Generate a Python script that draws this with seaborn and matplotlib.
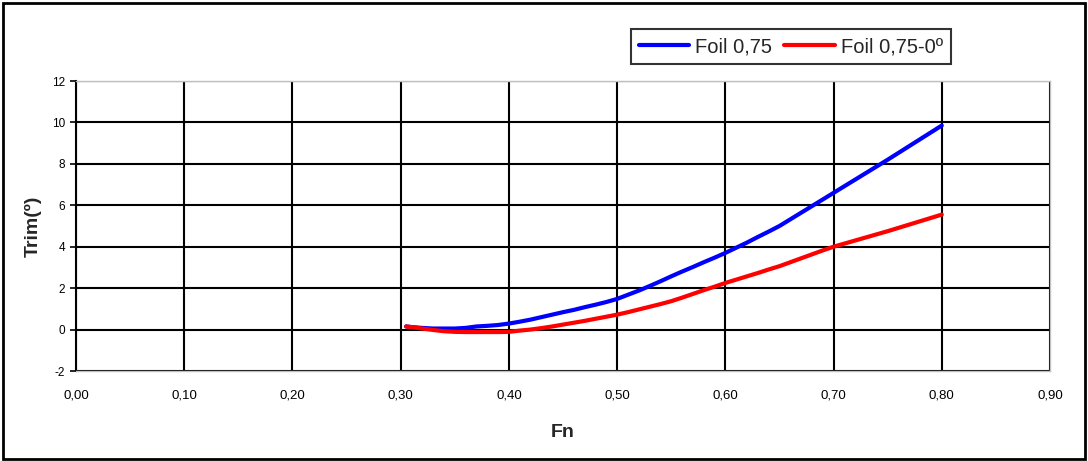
import numpy as np
import pandas as pd
import matplotlib
matplotlib.use("Agg")
import matplotlib.pyplot as plt
import seaborn as sns
from matplotlib.patches import Rectangle

# -----------------------------
# Data
# -----------------------------
fn = [0.305, 0.31, 0.32, 0.33, 0.34, 0.35, 0.36, 0.37, 0.38, 0.39,
      0.40, 0.41, 0.42, 0.43, 0.44, 0.45, 0.46, 0.47, 0.48, 0.49,
      0.50, 0.51, 0.52, 0.53, 0.54, 0.55, 0.56, 0.57, 0.58, 0.59,
      0.60, 0.61, 0.62, 0.63, 0.64, 0.65, 0.66, 0.67, 0.68, 0.69,
      0.70, 0.71, 0.72, 0.73, 0.74, 0.75, 0.76, 0.77, 0.78, 0.79, 0.80]

trim_foil = [0.15, 0.12, 0.08, 0.05, 0.05, 0.05, 0.08, 0.15, 0.18, 0.22,
             0.29, 0.38, 0.48, 0.60, 0.72, 0.84, 0.95, 1.08, 1.20, 1.33,
             1.48, 1.68, 1.88, 2.10, 2.33, 2.57, 2.80, 3.02, 3.25, 3.47,
             3.70, 3.95, 4.20, 4.47, 4.73, 5.00, 5.32, 5.64, 5.96, 6.28,
             6.60, 6.92, 7.24, 7.56, 7.88, 8.20, 8.53, 8.86, 9.19, 9.52, 9.85]

trim_foil_0 = [0.15, 0.12, 0.05, -0.02, -0.08, -0.11, -0.12, -0.12, -0.12, -0.12,
               -0.11, -0.05, 0.00, 0.07, 0.15, 0.24, 0.33, 0.42, 0.52, 0.62,
               0.72, 0.84, 0.97, 1.10, 1.23, 1.37, 1.54, 1.72, 1.90, 2.07,
               2.25, 2.41, 2.57, 2.73, 2.90, 3.06, 3.25, 3.44, 3.63, 3.82,
               4.00, 4.15, 4.30, 4.45, 4.60, 4.75, 4.91, 5.07, 5.23, 5.39, 5.55]

series_names = ["Foil 0,75", "Foil 0,75-0º"]
x_ticks = [0.0, 0.1, 0.2, 0.3, 0.4, 0.5, 0.6, 0.7, 0.8, 0.9]
x_tick_labels = ["0,00", "0,10", "0,20", "0,30", "0,40", "0,50", "0,60", "0,70", "0,80", "0,90"]
y_ticks = [-2, 0, 2, 4, 6, 8, 10, 12]

df = pd.concat([
    pd.DataFrame({"Fn": fn, "Trim": trim_foil, "serie": series_names[0]}),
    pd.DataFrame({"Fn": fn, "Trim": trim_foil_0, "serie": series_names[1]}),
])

# -----------------------------
# Style
# -----------------------------
sns.set_style("white")
plt.rcParams["font.family"] = ["Liberation Sans", "DejaVu Sans"]
plt.rcParams["axes.unicode_minus"] = False

fig = plt.figure(figsize=(10.88, 4.61), dpi=100)
ax = fig.add_axes([76 / 1088, 1 - 371 / 461, 974 / 1088, 290 / 461])

sns.lineplot(data=df, x="Fn", y="Trim", hue="serie",
             palette={series_names[0]: "#0000ff", series_names[1]: "#ff0000"},
             linewidth=3, ax=ax, legend=False, zorder=3)

ax.set_xlim(0, 0.9)
ax.set_ylim(-2, 12)
ax.set_xticks(x_ticks)
ax.set_xticklabels(x_tick_labels)
ax.set_yticks(y_ticks)

ax.grid(True, color="black", linewidth=1.5)
ax.set_axisbelow(True)

for side in ["top", "right", "bottom"]:
    ax.spines[side].set_color("#c0c0c0")
    ax.spines[side].set_linewidth(1.0)
ax.spines["left"].set_color("black")
ax.spines["left"].set_linewidth(1.5)

ax.tick_params(axis="x", length=0, pad=13, labelsize=9.5, colors="black")
ax.tick_params(axis="y", left=True, length=4, width=1.2, direction="out",
               pad=4, labelsize=8.5, colors="black")

ax.set_xlabel("Fn", fontsize=14, fontweight="bold")
ax.set_ylabel("Trim(º)", fontsize=14, fontweight="bold")
ax.xaxis.set_label_coords(0.5, -0.183)
ax.yaxis.set_label_coords(-0.035, 0.5)

# legend box at top right
handles = [plt.Line2D([], [], color="#0000ff", lw=3),
           plt.Line2D([], [], color="#ff0000", lw=3)]
leg = fig.legend(handles, series_names, loc="center", bbox_to_anchor=(0.727, 0.899),
                 ncol=2, fontsize=14.5, frameon=True, fancybox=False,
                 handlelength=2.5, handletextpad=0.3, columnspacing=0.6,
                 borderpad=0.4)
leg.get_frame().set_edgecolor("black")
leg.get_frame().set_linewidth(1.5)

# outer chart border
fig.patches.append(Rectangle((3 / 1088, 2 / 461), 1082 / 1088, 456 / 461,
                             transform=fig.transFigure, fill=False,
                             edgecolor="black", linewidth=2))

fig.savefig("out.png", dpi=100)
